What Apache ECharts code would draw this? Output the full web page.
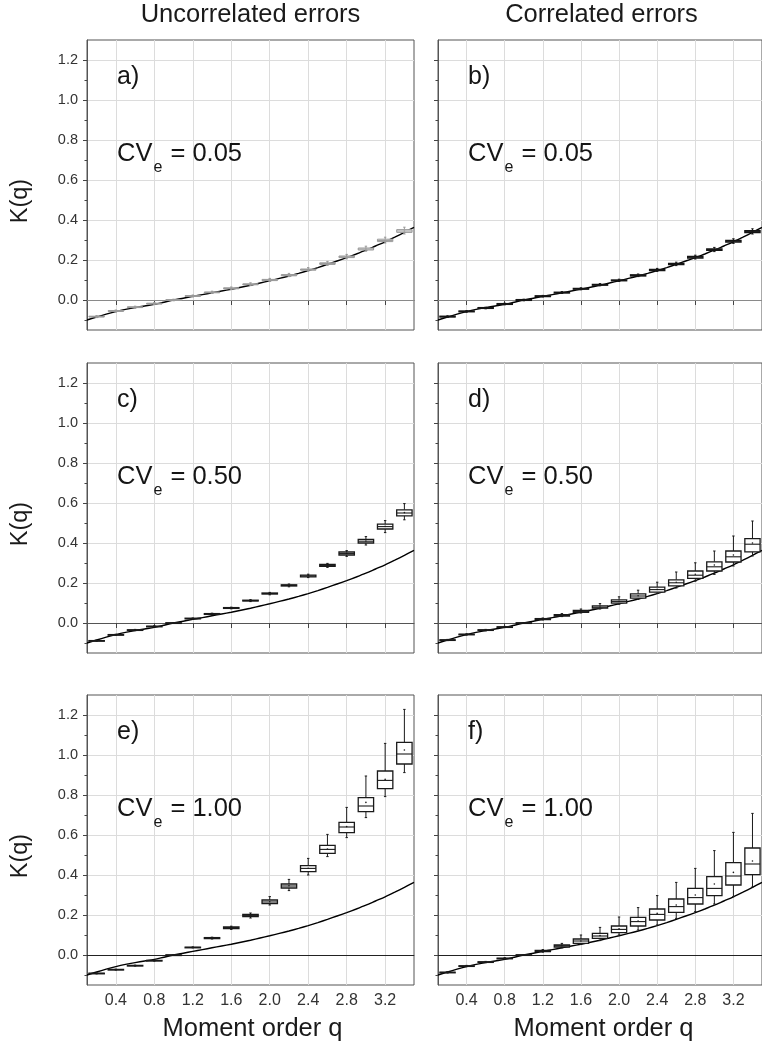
<!DOCTYPE html>
<html>
<head>
<meta charset="utf-8">
<script src="https://cdn.jsdelivr.net/npm/echarts@6/dist/echarts.min.js"></script>
<style>
  html, body { margin: 0; padding: 0; background: #ffffff; }
  #chart { width: 762px; height: 1052px; }
</style>
</head>
<body>
<div id="chart"></div>
<script>
// Moment orders at which the simulated K(q) distributions are summarised
const momentOrders = [0.2, 0.4, 0.6, 0.8, 1.0, 1.2, 1.4, 1.6, 1.8, 2.0, 2.2, 2.4, 2.6, 2.8, 3.0, 3.2, 3.4];

// Theoretical moment scaling function of the error-free series
const curveQ = [0.1, 0.2, 0.3, 0.4, 0.5, 0.6, 0.7, 0.8, 0.9, 1.0, 1.1, 1.2, 1.3, 1.4, 1.5, 1.6, 1.7, 1.8,
                1.9, 2.0, 2.1, 2.2, 2.3, 2.4, 2.5, 2.6, 2.7, 2.8, 2.9, 3.0, 3.1, 3.2, 3.3, 3.4, 3.5];
const curveK = [-0.100, -0.085, -0.071, -0.058, -0.047, -0.038, -0.030, -0.022, -0.011, 0.000, 0.009, 0.018,
                0.027, 0.036, 0.045, 0.054, 0.064, 0.074, 0.085, 0.096, 0.108, 0.120, 0.133, 0.147, 0.162,
                0.178, 0.195, 0.212, 0.230, 0.249, 0.270, 0.291, 0.314, 0.338, 0.363];

// Axis ticks
const xTickValues = [0.4, 0.8, 1.2, 1.6, 2.0, 2.4, 2.8, 3.2];
const yTickValues = [0.0, 0.2, 0.4, 0.6, 0.8, 1.0, 1.2];
const yMinorValues = [-0.1, 0.1, 0.3, 0.5, 0.7, 0.9, 1.1];

// Box statistics per moment order: [whisker low, Q1, median, Q3, whisker high, mean]
const uncorr005 = [
  [-0.088, -0.085, -0.083, -0.081, -0.078, -0.083],
  [-0.060, -0.057, -0.055, -0.053, -0.050, -0.055],
  [-0.041, -0.038, -0.036, -0.034, -0.031, -0.036],
  [-0.023, -0.020, -0.018, -0.016, -0.013, -0.018],
  [-0.004, -0.002, 0.000, 0.002, 0.004, 0.000],
  [0.015, 0.018, 0.020, 0.022, 0.025, 0.020],
  [0.033, 0.036, 0.038, 0.040, 0.044, 0.038],
  [0.052, 0.056, 0.058, 0.061, 0.065, 0.058],
  [0.072, 0.076, 0.078, 0.081, 0.086, 0.079],
  [0.093, 0.097, 0.100, 0.103, 0.108, 0.100],
  [0.117, 0.121, 0.124, 0.127, 0.133, 0.124],
  [0.144, 0.149, 0.152, 0.155, 0.162, 0.152],
  [0.173, 0.178, 0.182, 0.186, 0.193, 0.182],
  [0.206, 0.212, 0.216, 0.220, 0.228, 0.216],
  [0.244, 0.250, 0.255, 0.260, 0.269, 0.255],
  [0.285, 0.292, 0.298, 0.304, 0.314, 0.298],
  [0.330, 0.338, 0.345, 0.352, 0.364, 0.345]
];
const corr005 = [
  [-0.087, -0.085, -0.083, -0.081, -0.079, -0.083],
  [-0.061, -0.059, -0.057, -0.055, -0.053, -0.057],
  [-0.044, -0.042, -0.040, -0.038, -0.036, -0.040],
  [-0.024, -0.022, -0.020, -0.018, -0.016, -0.020],
  [-0.004, -0.002, 0.000, 0.002, 0.004, 0.000],
  [0.015, 0.017, 0.019, 0.021, 0.023, 0.019],
  [0.033, 0.035, 0.037, 0.039, 0.042, 0.037],
  [0.051, 0.054, 0.056, 0.058, 0.061, 0.056],
  [0.071, 0.074, 0.076, 0.078, 0.082, 0.076],
  [0.093, 0.096, 0.098, 0.100, 0.104, 0.098],
  [0.117, 0.120, 0.123, 0.126, 0.130, 0.123],
  [0.143, 0.147, 0.150, 0.153, 0.158, 0.150],
  [0.172, 0.177, 0.180, 0.183, 0.189, 0.180],
  [0.205, 0.210, 0.214, 0.218, 0.224, 0.214],
  [0.242, 0.248, 0.252, 0.256, 0.263, 0.252],
  [0.283, 0.290, 0.294, 0.298, 0.306, 0.294],
  [0.330, 0.337, 0.342, 0.347, 0.356, 0.342]
];
const uncorr050 = [
  [-0.092, -0.090, -0.089, -0.088, -0.086, -0.089],
  [-0.062, -0.060, -0.059, -0.058, -0.056, -0.059],
  [-0.038, -0.036, -0.035, -0.034, -0.032, -0.035],
  [-0.020, -0.018, -0.017, -0.016, -0.014, -0.017],
  [-0.002, -0.001, 0.000, 0.001, 0.002, 0.000],
  [0.019, 0.021, 0.022, 0.024, 0.025, 0.022],
  [0.041, 0.043, 0.045, 0.047, 0.049, 0.045],
  [0.071, 0.073, 0.075, 0.077, 0.079, 0.075],
  [0.107, 0.110, 0.112, 0.114, 0.117, 0.112],
  [0.141, 0.145, 0.147, 0.150, 0.153, 0.147],
  [0.181, 0.185, 0.188, 0.191, 0.195, 0.188],
  [0.227, 0.231, 0.235, 0.239, 0.244, 0.236],
  [0.278, 0.283, 0.288, 0.293, 0.298, 0.289],
  [0.333, 0.340, 0.347, 0.355, 0.362, 0.348],
  [0.390, 0.400, 0.409, 0.418, 0.432, 0.410],
  [0.452, 0.470, 0.482, 0.494, 0.512, 0.483],
  [0.516, 0.536, 0.550, 0.566, 0.597, 0.552]
];
const corr050 = [
  [-0.088, -0.086, -0.085, -0.084, -0.082, -0.085],
  [-0.060, -0.058, -0.057, -0.056, -0.054, -0.057],
  [-0.039, -0.037, -0.035, -0.034, -0.032, -0.035],
  [-0.023, -0.021, -0.020, -0.019, -0.017, -0.020],
  [-0.002, -0.001, 0.000, 0.001, 0.002, 0.000],
  [0.015, 0.017, 0.020, 0.022, 0.025, 0.020],
  [0.032, 0.035, 0.039, 0.042, 0.047, 0.039],
  [0.050, 0.053, 0.058, 0.063, 0.070, 0.058],
  [0.070, 0.074, 0.079, 0.086, 0.097, 0.080],
  [0.094, 0.099, 0.107, 0.116, 0.131, 0.108],
  [0.118, 0.124, 0.135, 0.146, 0.164, 0.136],
  [0.148, 0.154, 0.167, 0.179, 0.204, 0.168],
  [0.175, 0.186, 0.201, 0.216, 0.255, 0.204],
  [0.209, 0.223, 0.239, 0.260, 0.301, 0.244],
  [0.243, 0.260, 0.281, 0.306, 0.360, 0.290],
  [0.285, 0.305, 0.331, 0.360, 0.435, 0.340],
  [0.335, 0.356, 0.394, 0.422, 0.510, 0.400]
];
const uncorr100 = [
  [-0.094, -0.093, -0.092, -0.091, -0.090, -0.092],
  [-0.075, -0.074, -0.073, -0.072, -0.071, -0.073],
  [-0.055, -0.054, -0.053, -0.052, -0.051, -0.053],
  [-0.030, -0.029, -0.028, -0.027, -0.026, -0.028],
  [-0.001, -0.0005, 0.000, 0.0005, 0.001, 0.000],
  [0.036, 0.037, 0.038, 0.039, 0.040, 0.038],
  [0.080, 0.082, 0.085, 0.087, 0.089, 0.085],
  [0.128, 0.132, 0.137, 0.140, 0.144, 0.137],
  [0.185, 0.192, 0.198, 0.203, 0.210, 0.198],
  [0.250, 0.257, 0.265, 0.275, 0.292, 0.266],
  [0.322, 0.335, 0.345, 0.355, 0.378, 0.346],
  [0.400, 0.417, 0.433, 0.447, 0.483, 0.434],
  [0.492, 0.508, 0.528, 0.548, 0.603, 0.530],
  [0.587, 0.612, 0.640, 0.663, 0.738, 0.642],
  [0.687, 0.717, 0.745, 0.787, 0.895, 0.763],
  [0.792, 0.832, 0.873, 0.920, 1.058, 0.878],
  [0.912, 0.955, 1.005, 1.063, 1.228, 1.025]
];
const corr100 = [
  [-0.090, -0.088, -0.087, -0.086, -0.084, -0.087],
  [-0.058, -0.056, -0.055, -0.054, -0.052, -0.055],
  [-0.038, -0.036, -0.035, -0.034, -0.032, -0.035],
  [-0.020, -0.018, -0.017, -0.016, -0.014, -0.017],
  [-0.002, -0.001, 0.000, 0.001, 0.002, 0.000],
  [0.014, 0.017, 0.020, 0.023, 0.027, 0.020],
  [0.036, 0.040, 0.046, 0.050, 0.058, 0.046],
  [0.053, 0.058, 0.070, 0.080, 0.100, 0.070],
  [0.072, 0.083, 0.095, 0.108, 0.138, 0.097],
  [0.100, 0.112, 0.128, 0.145, 0.190, 0.131],
  [0.125, 0.145, 0.167, 0.188, 0.237, 0.170],
  [0.150, 0.175, 0.203, 0.230, 0.297, 0.208],
  [0.183, 0.213, 0.242, 0.280, 0.363, 0.250],
  [0.217, 0.255, 0.287, 0.333, 0.433, 0.300],
  [0.255, 0.297, 0.333, 0.392, 0.522, 0.355],
  [0.292, 0.350, 0.395, 0.462, 0.613, 0.413],
  [0.340, 0.402, 0.455, 0.535, 0.708, 0.470]
];

const columnTitles = ['Uncorrelated errors', 'Correlated errors'];
const panelLetters = ['a)', 'b)', 'c)', 'd)', 'e)', 'f)'];
const cvLabels = ['0.05', '0.05', '0.50', '0.50', '1.00', '1.00'];
const yAxisTitle = 'K(q)';
const xAxisTitle = 'Moment order q';

// Panel layout and styling
const FONT = '"Liberation Sans", Arial, sans-serif';
const colLeft = [87, 438];
const rowTop = [40, 363, 695];
const PW = 327, PH = 290;
const panels = [
  { boxes: uncorr005, col: 0, row: 0, boxColor: '#999999', boxWidth: 1, zero: '#8a8a8a' },
  { boxes: corr005,   col: 1, row: 0, boxColor: '#151515', boxWidth: 1.3, zero: '#8a8a8a' },
  { boxes: uncorr050, col: 0, row: 1, boxColor: '#1a1a1a', boxWidth: 1.3, zero: null },
  { boxes: corr050,   col: 1, row: 1, boxColor: '#1a1a1a', boxWidth: 1.3, zero: null },
  { boxes: uncorr100, col: 0, row: 2, boxColor: '#1a1a1a', boxWidth: 1.3, zero: '#222222' },
  { boxes: corr100,   col: 1, row: 2, boxColor: '#1a1a1a', boxWidth: 1.3, zero: '#222222' }
];

function makeBoxRenderer(color, strokeWidth) {
  return function (params, api) {
    const q = api.value(0);
    const lo = api.coord([q, api.value(1)]);
    const b1 = api.coord([q, api.value(2)]);
    const md = api.coord([q, api.value(3)]);
    const b3 = api.coord([q, api.value(4)]);
    const hi = api.coord([q, api.value(5)]);
    const mn = api.coord([q, api.value(6)]);
    const w = api.size([0.16, 0])[0];
    const x = lo[0];
    const half = w / 2;
    const cap = 1.2;
    const boxH = Math.max(b1[1] - b3[1], 0.6);
    const lineStyle = { stroke: color, lineWidth: 1 };
    return {
      type: 'group',
      children: [
        { type: 'line', shape: { x1: x, y1: hi[1], x2: x, y2: b3[1] }, style: lineStyle },
        { type: 'line', shape: { x1: x, y1: b1[1], x2: x, y2: lo[1] }, style: lineStyle },
        { type: 'line', shape: { x1: x - cap, y1: hi[1], x2: x + cap, y2: hi[1] }, style: lineStyle },
        { type: 'line', shape: { x1: x - cap, y1: lo[1], x2: x + cap, y2: lo[1] }, style: lineStyle },
        { type: 'rect', shape: { x: x - half, y: b3[1], width: w, height: boxH },
          style: { fill: '#ffffff', stroke: color, lineWidth: strokeWidth } },
        { type: 'line', shape: { x1: x - half, y1: md[1], x2: x + half, y2: md[1] },
          style: { stroke: color, lineWidth: 1.1 } },
        { type: 'circle', shape: { cx: x, cy: mn[1], r: 0.8 }, style: { fill: color } }
      ]
    };
  };
}

const grids = [], xAxes = [], yAxes = [], series = [], graphics = [];

panels.forEach(function (p, i) {
  const left = colLeft[p.col], top = rowTop[p.row];
  grids.push({ left: left, top: top, width: PW, height: PH, show: true,
               borderColor: '#555555', borderWidth: 1, backgroundColor: 'transparent' });
  xAxes.push({
    type: 'value', gridIndex: i, min: 0.1, max: 3.5,
    axisLine: { show: true, lineStyle: { color: '#555555', width: 1 } },
    axisTick: { show: p.row < 2, customValues: xTickValues, length: 5, lineStyle: { color: '#444444' } },
    axisLabel: { show: p.row === 2, customValues: xTickValues, margin: 8,
                 formatter: function (v) { return v.toFixed(1); },
                 fontFamily: FONT, fontSize: 16, color: '#333333' },
    splitLine: { show: true, lineStyle: { color: '#dcdcdc', width: 1 } }
  });
  yAxes.push({
    type: 'value', gridIndex: i, min: -0.15, max: 1.3, position: 'left',
    axisLine: { show: true, lineStyle: { color: '#555555', width: 1 } },
    axisTick: { show: true, customValues: yTickValues, length: 4, lineStyle: { color: '#444444' } },
    axisLabel: { show: p.col === 0, customValues: yTickValues, margin: 9,
                 formatter: function (v) { return v.toFixed(1); },
                 fontFamily: FONT, fontSize: 14.5, color: '#333333' },
    splitLine: { show: true, lineStyle: { color: '#dcdcdc', width: 1 } }
  });
  // minor ticks at the odd tenths
  yAxes.push({
    type: 'value', gridIndex: i, min: -0.15, max: 1.3, position: 'left',
    axisLine: { show: false },
    axisTick: { show: true, customValues: yMinorValues, length: 2.5, lineStyle: { color: '#444444' } },
    axisLabel: { show: false },
    splitLine: { show: false }
  });

  const curve = {
    type: 'line', xAxisIndex: i, yAxisIndex: 2 * i, z: 3,
    data: curveQ.map(function (q, k) { return [q, curveK[k]]; }),
    showSymbol: false, smooth: 0.3, silent: true,
    lineStyle: { color: '#000000', width: 1.4 }
  };
  if (p.zero) {
    curve.markLine = {
      silent: true, symbol: 'none', label: { show: false }, z: 2,
      lineStyle: { color: p.zero, width: 1, type: 'solid' },
      data: [{ yAxis: 0 }]
    };
  }
  series.push(curve);
  series.push({
    type: 'custom', xAxisIndex: i, yAxisIndex: 2 * i, z: 4, silent: true,
    renderItem: makeBoxRenderer(p.boxColor, p.boxWidth),
    encode: { x: 0, y: [1, 2, 3, 4, 5] },
    data: momentOrders.map(function (q, k) { return [q].concat(p.boxes[k]); })
  });

  // panel letter and error level
  graphics.push({
    type: 'text', x: left + 30, y: top + 37, z: 10,
    style: { text: panelLetters[i], font: '25px ' + FONT, fill: '#151515', verticalAlign: 'middle' }
  });
  graphics.push({
    type: 'text', x: left + 30, y: top + 114, z: 10,
    style: {
      text: '{m|CV}{s|e}{m| = ' + cvLabels[i] + '}',
      verticalAlign: 'middle',
      rich: {
        m: { fontFamily: FONT, fontSize: 25.5, fill: '#151515' },
        s: { fontFamily: FONT, fontSize: 16, fill: '#151515', padding: [28, 1, 0, 1] }
      }
    }
  });
});

// column titles and x-axis titles
columnTitles.forEach(function (t, c) {
  graphics.push({
    type: 'text', x: colLeft[c] + PW / 2, y: 15,
    style: { text: t, font: '25.5px ' + FONT, fill: '#1a1a1a', align: 'center', verticalAlign: 'middle' }
  });
  graphics.push({
    type: 'text', x: colLeft[c] + PW / 2 + 2, y: 1029,
    style: { text: xAxisTitle, font: '25.5px ' + FONT, fill: '#1a1a1a', align: 'center', verticalAlign: 'middle' }
  });
});
// row y-axis titles
rowTop.forEach(function (t) {
  graphics.push({
    type: 'text', x: 21, y: t + 161, rotation: Math.PI / 2,
    style: { text: yAxisTitle, font: '23.5px ' + FONT, fill: '#1a1a1a', align: 'center', verticalAlign: 'middle' }
  });
});

const chart = echarts.init(document.getElementById('chart'), null, { renderer: 'canvas' });
chart.setOption({
  animation: false,
  backgroundColor: '#ffffff',
  grid: grids,
  xAxis: xAxes,
  yAxis: yAxes,
  series: series,
  graphic: graphics
});
</script>
</body>
</html>
